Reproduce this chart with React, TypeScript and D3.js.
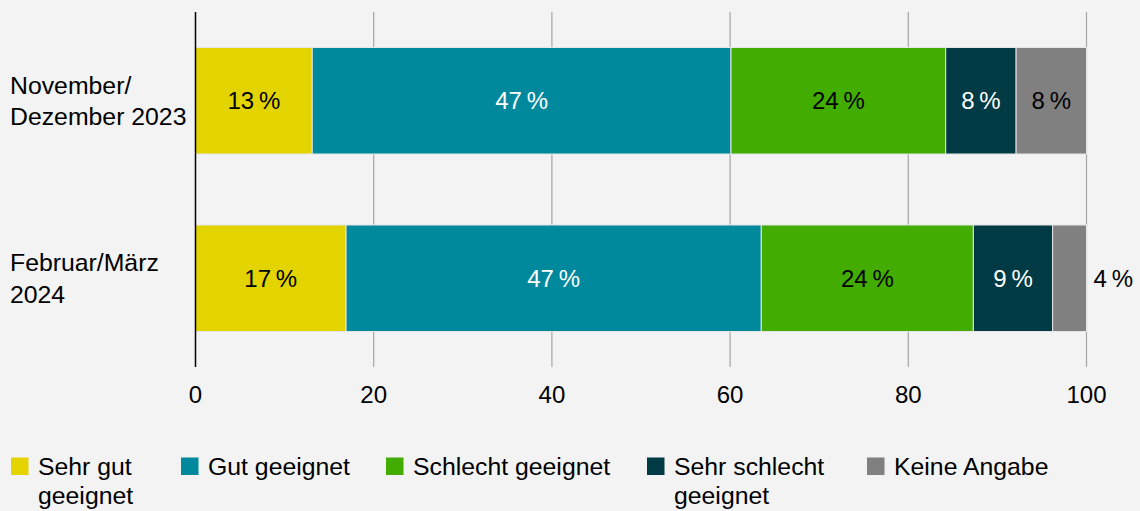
import React from "react";
import * as d3 from "d3";

const periods = [["November/", "Dezember 2023"], ["Februar/März", "2024"]];
const answers = ["Sehr gut geeignet", "Gut geeignet", "Schlecht geeignet", "Sehr schlecht geeignet", "Keine Angabe"];
const legendLines = [["Sehr gut", "geeignet"], ["Gut geeignet"], ["Schlecht geeignet"], ["Sehr schlecht", "geeignet"], ["Keine Angabe"]];
const sehrGut = [13.1, 16.9];
const gut = [47.0, 46.6];
const schlecht = [24.1, 23.8];
const sehrSchlecht = [7.9, 8.9];
const keineAngabe = [7.9, 3.8];
const xTicks = [0, 20, 40, 60, 80, 100];

const colors = ["#e3d400", "#00889c", "#43ac00", "#003a44", "#808080"];
const textColors = ["#000", "#fff", "#000", "#fff", "#000"];
// legend column starts (layout)
const legendX = [11, 181, 386, 647, 867];

const width = 1140;
const height = 511;
const margin = { top: 12, right: 53.5, bottom: 144, left: 195.5 };
const font = "'Liberation Sans', Arial, sans-serif";
const fs = 24;
const fsLabel = 24.8;

const App = () => {
  const table = periods.map((p, i) => ({
    key: i,
    [answers[0]]: sehrGut[i],
    [answers[1]]: gut[i],
    [answers[2]]: schlecht[i],
    [answers[3]]: sehrSchlecht[i],
    [answers[4]]: keineAngabe[i],
  }));
  const series = d3.stack<any>().keys(answers)(table);

  const x = d3.scaleLinear().domain([0, 100]).range([margin.left, width - margin.right]);
  const y = d3
    .scaleBand<number>()
    .domain(periods.map((_, i) => i))
    .range([margin.top, height - margin.bottom])
    .paddingInner(0.4)
    .paddingOuter(0.2);

  const fmt = (v: number) => `${Math.round(v)}\u2009%`;

  return (
    <svg
      width={width}
      height={height}
      style={{ position: "absolute", left: 0, top: 0, background: "#f3f3f3" }}
      fontFamily={font}
    >
      <rect width={width} height={height} fill="#f3f3f3" />
      {xTicks.slice(1).map((t) => (
        <line key={t} x1={x(t)} x2={x(t)} y1={margin.top} y2={height - margin.bottom} stroke="#a6a6a6" strokeWidth={1.2} />
      ))}
      {series.map((s, si) =>
        s.map((d, i) => {
          const w = x(d[1]) - x(d[0]);
          const yy = y(i)!;
          const bw = y.bandwidth();
          const v = d[1] - d[0];
          const outside = v < 5;
          return (
            <g key={`${si}-${i}`}>
              <rect x={x(d[0])} y={yy} width={w} height={bw} fill={colors[si]} stroke="#e6e6e6" strokeWidth={1} />
              <text
                x={outside ? x(100) + 7 : x(d[0]) + w / 2}
                y={yy + bw / 2}
                dy="0.35em"
                textAnchor={outside ? "start" : "middle"}
                fontSize={fs}
                fill={outside ? "#000" : textColors[si]}
              >
                {fmt(v)}
              </text>
            </g>
          );
        })
      )}
      <line x1={x(0)} x2={x(0)} y1={margin.top} y2={height - margin.bottom} stroke="#000" strokeWidth={1.5} />
      {xTicks.map((t) => (
        <text key={t} x={x(t)} y={403} textAnchor="middle" fontSize={fs} fill="#000">
          {t}
        </text>
      ))}
      {periods.map((lines, i) => {
        const cy = y(i)! + y.bandwidth() / 2;
        return (
          <text key={i} x={10} fontSize={fsLabel} fill="#000">
            {lines.map((l, li) => (
              <tspan key={li} x={10} y={cy + (li - (lines.length - 1) / 2) * 31.5 + 8.5}>
                {l}
              </tspan>
            ))}
          </text>
        );
      })}
      {legendLines.map((lines, i) => (
        <g key={i} transform={`translate(${legendX[i]},0)`}>
          <rect x={0} y={457.5} width={17.5} height={17.5} fill={colors[i]} />
          <text fontSize={fsLabel} fill="#000">
            {lines.map((l, li) => (
              <tspan key={li} x={27} y={474.5 + li * 29}>
                {l}
              </tspan>
            ))}
          </text>
        </g>
      ))}
    </svg>
  );
};

export default App;
